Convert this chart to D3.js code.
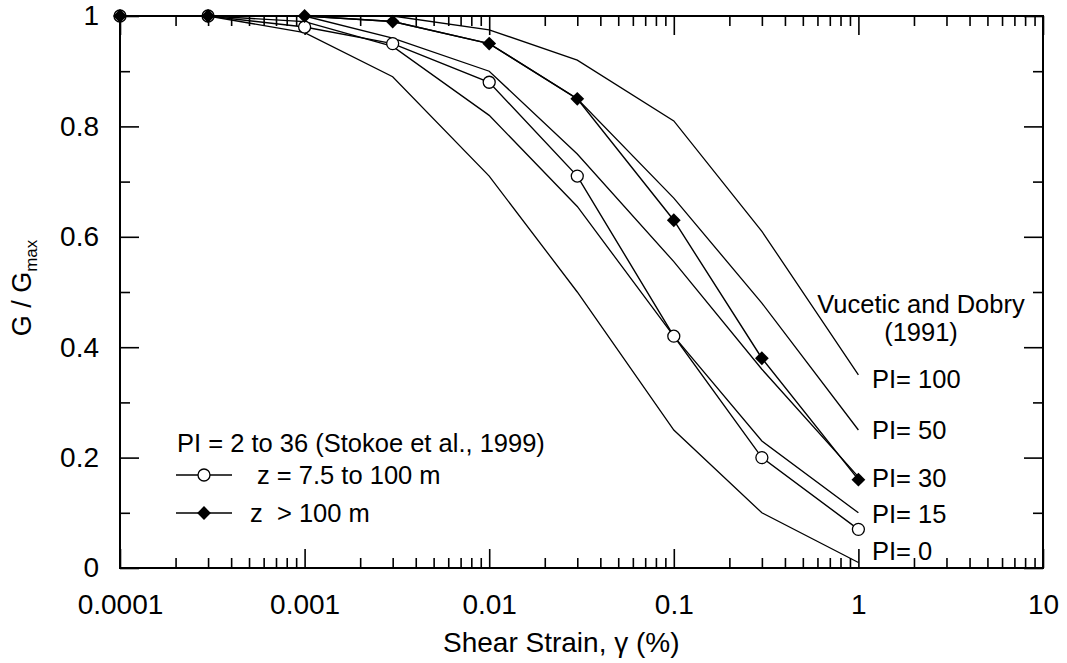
<!DOCTYPE html>
<html>
<head>
<meta charset="utf-8">
<script src="https://cdn.jsdelivr.net/npm/d3@7"></script>
<style>
  body { margin: 0; background: #fff; }
  svg text { font-family: Arial, "Liberation Sans", sans-serif; fill: #000; }
</style>
</head>
<body>
<svg id="chart" width="1067" height="663"></svg>
<script>
// shear strain (%) at which every curve is given
const strain = [0.0001, 0.0003, 0.001, 0.003, 0.01, 0.03, 0.1, 0.3, 1];

// Vucetic and Dobry (1991) reference curves, G/Gmax
const pi0   = [1, 1, 0.97, 0.89, 0.71, 0.50, 0.25, 0.10, 0.01];
const pi15  = [1, 1, 0.99, 0.945, 0.82, 0.655, 0.42, 0.23, 0.10];
const pi30  = [1, 1, 1, 0.96, 0.90, 0.75, 0.555, 0.36, 0.165];
const pi50  = [1, 1, 1, 0.99, 0.95, 0.85, 0.67, 0.48, 0.25];
const pi100 = [1, 1, 1, 1, 0.975, 0.92, 0.81, 0.61, 0.35];

// Stokoe et al. (1999), PI = 2 to 36
const shallow = [1, 1, 0.98, 0.95, 0.88, 0.71, 0.42, 0.20, 0.07]; // z = 7.5 to 100 m
const deep    = [1, 1, 1, 0.99, 0.95, 0.85, 0.63, 0.38, 0.16];    // z > 100 m

const refNames = ["PI= 0", "PI= 15", "PI= 30", "PI= 50", "PI= 100"];
const xTickValues = [0.0001, 0.001, 0.01, 0.1, 1, 10];
const yTickValues = [0, 0.2, 0.4, 0.6, 0.8, 1];

const svg = d3.select("#chart");
const plotL = 120, plotR = 1043, plotT = 16, plotB = 568;

const x = d3.scaleLog().domain([0.0001, 10]).range([plotL, plotR]);
const y = d3.scaleLinear().domain([0, 1]).range([plotB, plotT]);

// minor ticks
const xMinor = x.ticks().filter(d => xTickValues.indexOf(d) < 0);
const yMinor = d3.range(0.1, 1, 0.2);

const fmtX = d => String(d);
const fmtY = d => d3.format("~g")(d);

// bottom axis (inward ticks)
svg.append("g").attr("transform", `translate(0,${plotB})`)
  .call(d3.axisBottom(x).tickValues(xMinor).tickSizeInner(-10).tickSizeOuter(0).tickFormat(""));
svg.append("g").attr("class", "xaxis").attr("transform", `translate(0,${plotB})`)
  .call(d3.axisBottom(x).tickValues(xTickValues).tickSizeInner(-19).tickSizeOuter(0)
    .tickPadding(26).tickFormat(fmtX));
// top axis
svg.append("g").attr("transform", `translate(0,${plotT})`)
  .call(d3.axisTop(x).tickValues(xMinor).tickSizeInner(-10).tickSizeOuter(0).tickFormat(""));
svg.append("g").attr("transform", `translate(0,${plotT})`)
  .call(d3.axisTop(x).tickValues(xTickValues).tickSizeInner(-19).tickSizeOuter(0).tickFormat(""));
// left axis
svg.append("g").attr("transform", `translate(${plotL},0)`)
  .call(d3.axisLeft(y).tickValues(yMinor).tickSizeInner(-10).tickSizeOuter(0).tickFormat(""));
svg.append("g").attr("class", "yaxis").attr("transform", `translate(${plotL},0)`)
  .call(d3.axisLeft(y).tickValues(yTickValues).tickSizeInner(-19).tickSizeOuter(0)
    .tickPadding(21).tickFormat(fmtY));
// right axis
svg.append("g").attr("transform", `translate(${plotR},0)`)
  .call(d3.axisRight(y).tickValues(yMinor).tickSizeInner(-10).tickSizeOuter(0).tickFormat(""));
svg.append("g").attr("transform", `translate(${plotR},0)`)
  .call(d3.axisRight(y).tickValues(yTickValues).tickSizeInner(-19).tickSizeOuter(0).tickFormat(""));

svg.selectAll(".domain").remove();
svg.selectAll(".tick line").attr("stroke", "#000").attr("stroke-width", 1.6);
svg.selectAll(".xaxis text, .yaxis text").attr("font-size", 28).attr("font-family", null);

// frame
svg.append("rect")
  .attr("x", plotL).attr("y", plotT)
  .attr("width", plotR - plotL).attr("height", plotB - plotT)
  .attr("fill", "none").attr("stroke", "#000").attr("stroke-width", 2);

const line = d3.line()
  .x((d, i) => x(strain[i]))
  .y(d => y(d));

// reference curves
svg.append("g").selectAll("path.ref")
  .data([pi0, pi15, pi30, pi50, pi100])
  .enter().append("path")
  .attr("class", "ref")
  .attr("d", line)
  .attr("fill", "none")
  .attr("stroke", "#000")
  .attr("stroke-width", 1.3);

// measured curves
[shallow, deep].forEach(s => {
  svg.append("path")
    .attr("d", line(s))
    .attr("fill", "none")
    .attr("stroke", "#000")
    .attr("stroke-width", 1.4);
});

const diamond = d3.symbol().type(d3.symbolSquare).size(95);

svg.append("g").selectAll("circle")
  .data(shallow)
  .enter().append("circle")
  .attr("cx", (d, i) => x(strain[i]))
  .attr("cy", d => y(d))
  .attr("r", 6)
  .attr("fill", "#fff")
  .attr("stroke", "#000")
  .attr("stroke-width", 1.3);

svg.append("g").selectAll("path")
  .data(deep)
  .enter().append("path")
  .attr("d", diamond)
  .attr("transform", (d, i) => `translate(${x(strain[i])},${y(d)}) rotate(45)`)
  .attr("fill", "#000");

// legend
const lg = svg.append("g").attr("font-size", 25.5);
lg.append("text").attr("x", 177).attr("y", 452).text("PI = 2 to 36 (Stokoe et al., 1999)");
lg.append("line").attr("x1", 176).attr("x2", 232).attr("y1", 475).attr("y2", 475)
  .attr("stroke", "#000").attr("stroke-width", 1.4);
lg.append("circle").attr("cx", 204).attr("cy", 475).attr("r", 6)
  .attr("fill", "#fff").attr("stroke", "#000").attr("stroke-width", 1.3);
lg.append("text").attr("x", 257).attr("y", 484).text("z = 7.5 to 100 m");
lg.append("line").attr("x1", 176).attr("x2", 232).attr("y1", 513).attr("y2", 513)
  .attr("stroke", "#000").attr("stroke-width", 1.4);
lg.append("path").attr("d", diamond).attr("transform", "translate(204,513) rotate(45)").attr("fill", "#000");
lg.append("text").attr("x", 250).attr("y", 522).attr("xml:space", "preserve").text("z  > 100 m");

// reference annotations
const ann = svg.append("g").attr("font-size", 25.5);
ann.append("text").attr("x", 921).attr("y", 313).attr("text-anchor", "middle").text("Vucetic and Dobry");
ann.append("text").attr("x", 921).attr("y", 341).attr("text-anchor", "middle").text("(1991)");
const labelY = [560, 523, 487, 439, 388];
ann.selectAll("text.pi")
  .data(refNames)
  .enter().append("text")
  .attr("class", "pi")
  .attr("x", 872)
  .attr("y", (d, i) => labelY[i])
  .text(d => d);

// axis titles
svg.append("text")
  .attr("x", 443).attr("y", 652)
  .attr("font-size", 28)
  .text("Shear Strain, γ (%)");

const yl = svg.append("text")
  .attr("transform", "translate(31,288) rotate(-90)")
  .attr("text-anchor", "middle")
  .attr("font-size", 27);
yl.append("tspan").text("G / G");
yl.append("tspan").attr("font-size", 17).attr("dy", 6).text("max");
</script>
</body>
</html>
